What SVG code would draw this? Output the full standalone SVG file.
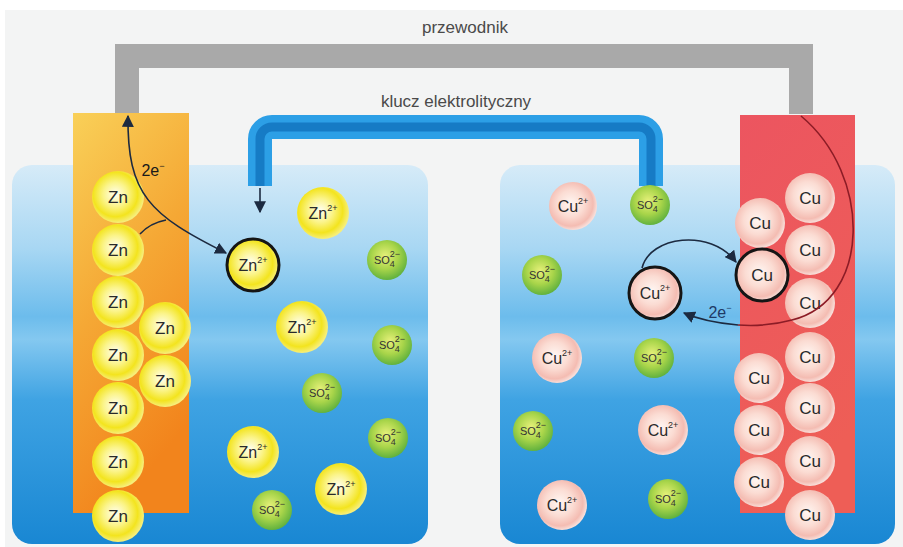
<svg xmlns="http://www.w3.org/2000/svg" width="903" height="547" viewBox="0 0 903 547">
  <defs>
    <style>
      text { font-family: "Liberation Sans", Arial, sans-serif; fill: #2a2a2a; text-anchor: middle; }
      .title { font-size: 17px; fill: #4a4a4a; }
      .zn circle { fill: url(#gZn); }
      .so circle { fill: url(#gSO); }
      .cu circle { fill: url(#gCu); }
      .atom text { font-size: 17px; }
      .ion text { font-size: 16px; }
      .so text { font-size: 11px; fill: #333; }
      .sup { font-size: 9px; }
      .ring { fill: none; stroke: #151515; stroke-width: 3; }
      .flow { fill: none; stroke: #1c2a40; stroke-width: 1.6; }
      .e { font-size: 16px; fill: #1a1a1a; }
    </style>
    <linearGradient id="gBeaker" x1="0" y1="0" x2="0" y2="1">
      <stop offset="0" stop-color="#d6ebf8"/>
      <stop offset="0.22" stop-color="#a8d7f3"/>
      <stop offset="0.4" stop-color="#6cbcec"/>
      <stop offset="0.46" stop-color="#84c8f0"/>
      <stop offset="0.62" stop-color="#3fa3e3"/>
      <stop offset="1" stop-color="#1987d3"/>
    </linearGradient>
    <linearGradient id="gZnPlate" x1="0" y1="0" x2="0.35" y2="1">
      <stop offset="0" stop-color="#f9d058"/>
      <stop offset="0.5" stop-color="#f5a835"/>
      <stop offset="1" stop-color="#f2841c"/>
    </linearGradient>
    <linearGradient id="gCuPlate" x1="0" y1="0" x2="0.3" y2="1">
      <stop offset="0" stop-color="#ec5560"/>
      <stop offset="1" stop-color="#ee5e56"/>
    </linearGradient>
    <radialGradient id="gZn" cx="0.45" cy="0.45" r="0.55">
      <stop offset="0" stop-color="#fffef2"/>
      <stop offset="0.42" stop-color="#fbf48a"/>
      <stop offset="0.78" stop-color="#f3e41e"/>
      <stop offset="1" stop-color="#f6ee7a"/>
    </radialGradient>
    <radialGradient id="gSO" cx="0.45" cy="0.4" r="0.6">
      <stop offset="0" stop-color="#e6f07a"/>
      <stop offset="0.55" stop-color="#a9d54a"/>
      <stop offset="1" stop-color="#62b23e"/>
    </radialGradient>
    <radialGradient id="gCu" cx="0.45" cy="0.45" r="0.55">
      <stop offset="0" stop-color="#fff6f2"/>
      <stop offset="0.5" stop-color="#fbdcd3"/>
      <stop offset="0.85" stop-color="#f4bcb2"/>
      <stop offset="1" stop-color="#f8ddd8"/>
    </radialGradient>
    <marker id="headBig" viewBox="0 0 10 10" refX="9" refY="5" markerWidth="12" markerHeight="12" orient="auto-start-reverse" markerUnits="userSpaceOnUse">
      <path d="M0,0 L10,5 L0,10 Z" fill="#1c2a40"/>
    </marker>
  </defs>

  <!-- backdrop -->
  <rect x="0" y="0" width="903" height="547" fill="#ffffff"/>
  <rect x="5" y="10" width="898" height="537" fill="#f3f4f4"/>

  <!-- external conductor -->
  <g id="conductor">
    <path d="M127,114 V56 H801 V114" fill="none" stroke="#a9a9a9" stroke-width="24"/>
    <text class="title" x="465" y="33">przewodnik</text>
  </g>

  <!-- beakers with electrolyte -->
  <g id="beaker-left">
    <rect x="12" y="165" width="416" height="379" rx="20" fill="url(#gBeaker)"/>
  </g>
  <g id="beaker-right">
    <rect x="500" y="165" width="395" height="379" rx="20" fill="url(#gBeaker)"/>
  </g>

  <!-- salt bridge -->
  <g id="salt-bridge">
    <path d="M260,186 V139 A12,12 0 0 1 272,127 H639 A12,12 0 0 1 651,139 V186" fill="none" stroke="#2c9fe6" stroke-width="24"/>
    <path d="M260,186 V139 A12,12 0 0 1 272,127 H639 A12,12 0 0 1 651,139 V186" fill="none" stroke="#167bc5" stroke-width="9"/>
    <text class="title" x="456" y="107">klucz elektrolityczny</text>
  </g>

  <!-- electrodes -->
  <g id="zinc-plate">
    <rect x="73" y="113" width="116" height="400" fill="url(#gZnPlate)"/>
  </g>
  <g id="copper-plate">
    <rect x="740" y="115" width="115" height="398" fill="url(#gCuPlate)"/>
  </g>

  <!-- zinc atoms in the anode -->
  <g id="zn-a1" class="atom zn"><circle cx="118" cy="197" r="26"/><text x="118" y="203">Zn</text></g>
  <g id="zn-a2" class="atom zn"><circle cx="118" cy="250" r="26"/><text x="118" y="256">Zn</text></g>
  <g id="zn-a3" class="atom zn"><circle cx="118" cy="302" r="26"/><text x="118" y="308">Zn</text></g>
  <g id="zn-a4" class="atom zn"><circle cx="118" cy="355" r="26"/><text x="118" y="361">Zn</text></g>
  <g id="zn-a5" class="atom zn"><circle cx="118" cy="408" r="26"/><text x="118" y="414">Zn</text></g>
  <g id="zn-a6" class="atom zn"><circle cx="118" cy="462" r="26"/><text x="118" y="468">Zn</text></g>
  <g id="zn-a7" class="atom zn"><circle cx="118" cy="516" r="26"/><text x="118" y="522">Zn</text></g>
  <g id="zn-a8" class="atom zn"><circle cx="165" cy="328" r="26"/><text x="165" y="334">Zn</text></g>
  <g id="zn-a9" class="atom zn"><circle cx="165" cy="381" r="26"/><text x="165" y="387">Zn</text></g>

  <!-- zinc ions -->
  <g id="zn-i1" class="ion zn"><circle cx="323" cy="213" r="26"/><text x="323" y="219">Zn<tspan class="sup" dy="-8">2+</tspan></text></g>
  <g id="zn-i2" class="ion zn"><circle cx="253" cy="265" r="26"/><circle class="ring" cx="253" cy="265" r="26"/><text x="253" y="271">Zn<tspan class="sup" dy="-8">2+</tspan></text></g>
  <g id="zn-i3" class="ion zn"><circle cx="302" cy="327" r="26"/><text x="302" y="333">Zn<tspan class="sup" dy="-8">2+</tspan></text></g>
  <g id="zn-i4" class="ion zn"><circle cx="253" cy="452" r="26"/><text x="253" y="458">Zn<tspan class="sup" dy="-8">2+</tspan></text></g>
  <g id="zn-i5" class="ion zn"><circle cx="341" cy="489" r="26"/><text x="341" y="495">Zn<tspan class="sup" dy="-8">2+</tspan></text></g>

  <!-- sulfate ions, left -->
  <g id="so-l1" class="so"><circle cx="387" cy="260" r="20"/><text x="387" y="264">SO<tspan class="sup" dy="3">4</tspan><tspan class="sup" dx="-5" dy="-10">2−</tspan></text></g>
  <g id="so-l2" class="so"><circle cx="392" cy="345" r="20"/><text x="392" y="349">SO<tspan class="sup" dy="3">4</tspan><tspan class="sup" dx="-5" dy="-10">2−</tspan></text></g>
  <g id="so-l3" class="so"><circle cx="322" cy="393" r="20"/><text x="322" y="397">SO<tspan class="sup" dy="3">4</tspan><tspan class="sup" dx="-5" dy="-10">2−</tspan></text></g>
  <g id="so-l4" class="so"><circle cx="388" cy="438" r="20"/><text x="388" y="442">SO<tspan class="sup" dy="3">4</tspan><tspan class="sup" dx="-5" dy="-10">2−</tspan></text></g>
  <g id="so-l5" class="so"><circle cx="272" cy="510" r="20"/><text x="272" y="514">SO<tspan class="sup" dy="3">4</tspan><tspan class="sup" dx="-5" dy="-10">2−</tspan></text></g>

  <!-- copper ions -->
  <g id="cu-i1" class="ion cu"><circle cx="573" cy="206" r="24"/><text x="573" y="212">Cu<tspan class="sup" dy="-8">2+</tspan></text></g>
  <g id="cu-i2" class="ion cu"><circle cx="655" cy="293" r="26"/><circle class="ring" cx="655" cy="293" r="26"/><text x="655" y="299">Cu<tspan class="sup" dy="-8">2+</tspan></text></g>
  <g id="cu-i3" class="ion cu"><circle cx="557" cy="358" r="25"/><text x="557" y="364">Cu<tspan class="sup" dy="-8">2+</tspan></text></g>
  <g id="cu-i4" class="ion cu"><circle cx="663" cy="430" r="25"/><text x="663" y="436">Cu<tspan class="sup" dy="-8">2+</tspan></text></g>
  <g id="cu-i5" class="ion cu"><circle cx="562" cy="505" r="25"/><text x="562" y="511">Cu<tspan class="sup" dy="-8">2+</tspan></text></g>

  <!-- sulfate ions, right -->
  <g id="so-r1" class="so"><circle cx="650" cy="205" r="20"/><text x="650" y="209">SO<tspan class="sup" dy="3">4</tspan><tspan class="sup" dx="-5" dy="-10">2−</tspan></text></g>
  <g id="so-r2" class="so"><circle cx="542" cy="275" r="20"/><text x="542" y="279">SO<tspan class="sup" dy="3">4</tspan><tspan class="sup" dx="-5" dy="-10">2−</tspan></text></g>
  <g id="so-r3" class="so"><circle cx="654" cy="358" r="20"/><text x="654" y="362">SO<tspan class="sup" dy="3">4</tspan><tspan class="sup" dx="-5" dy="-10">2−</tspan></text></g>
  <g id="so-r4" class="so"><circle cx="533" cy="431" r="20"/><text x="533" y="435">SO<tspan class="sup" dy="3">4</tspan><tspan class="sup" dx="-5" dy="-10">2−</tspan></text></g>
  <g id="so-r5" class="so"><circle cx="668" cy="499" r="20"/><text x="668" y="503">SO<tspan class="sup" dy="3">4</tspan><tspan class="sup" dx="-5" dy="-10">2−</tspan></text></g>

  <!-- copper atoms in the cathode -->
  <g id="cu-a1" class="atom cu"><circle cx="810" cy="198" r="25"/><text x="810" y="204">Cu</text></g>
  <g id="cu-a2" class="atom cu"><circle cx="760" cy="223" r="25"/><text x="760" y="229">Cu</text></g>
  <g id="cu-a3" class="atom cu"><circle cx="810" cy="250" r="25"/><text x="810" y="256">Cu</text></g>
  <g id="cu-a5" class="atom cu"><circle cx="810" cy="303" r="25"/><text x="810" y="309">Cu</text></g>
  <g id="cu-a4" class="atom cu"><circle cx="762" cy="275" r="26"/><circle class="ring" cx="762" cy="275" r="26"/><text x="762" y="281">Cu</text></g>
  <g id="cu-a6" class="atom cu"><circle cx="810" cy="357" r="25"/><text x="810" y="363">Cu</text></g>
  <g id="cu-a7" class="atom cu"><circle cx="759" cy="378" r="25"/><text x="759" y="384">Cu</text></g>
  <g id="cu-a8" class="atom cu"><circle cx="810" cy="408" r="25"/><text x="810" y="414">Cu</text></g>
  <g id="cu-a9" class="atom cu"><circle cx="759" cy="430" r="25"/><text x="759" y="436">Cu</text></g>
  <g id="cu-a10" class="atom cu"><circle cx="810" cy="461" r="25"/><text x="810" y="467">Cu</text></g>
  <g id="cu-a11" class="atom cu"><circle cx="759" cy="482" r="25"/><text x="759" y="488">Cu</text></g>
  <g id="cu-a12" class="atom cu"><circle cx="810" cy="515" r="25"/><text x="810" y="521">Cu</text></g>

  <!-- reaction arrows -->
  <g id="connectors">
    <!-- anode: electrons up into the wire, ion out into solution -->
    <path class="flow" d="M128,116 C127,195 150,215 226,253" marker-start="url(#headBig)" marker-end="url(#headBig)"/>
    <path class="flow" d="M140,234 Q150,223 166,220"/>
    <!-- ions travelling out of the salt bridge -->
    <path class="flow" d="M260,188 V212" marker-end="url(#headBig)"/>
    <!-- cathode: ion reduced onto the plate -->
    <path class="flow" d="M642,268 C650,236 710,228 736,262" marker-end="url(#headBig)"/>
    <!-- electrons from the wire through the plate -->
    <path d="M801,116 C872,175 872,300 792,320 C770,326 752,326 738,325" fill="none" stroke="#8c1c26" stroke-width="1.6"/>
    <path class="flow" d="M738,325 C715,323 700,320 684,313" marker-end="url(#headBig)"/>
  </g>

  <!-- electron labels -->
  <text class="e" x="153" y="176">2e<tspan class="sup" dy="-7">−</tspan></text>
  <text class="e" x="720" y="318" style="fill:#1f3a66">2e<tspan class="sup" dy="-7">−</tspan></text>
</svg>
